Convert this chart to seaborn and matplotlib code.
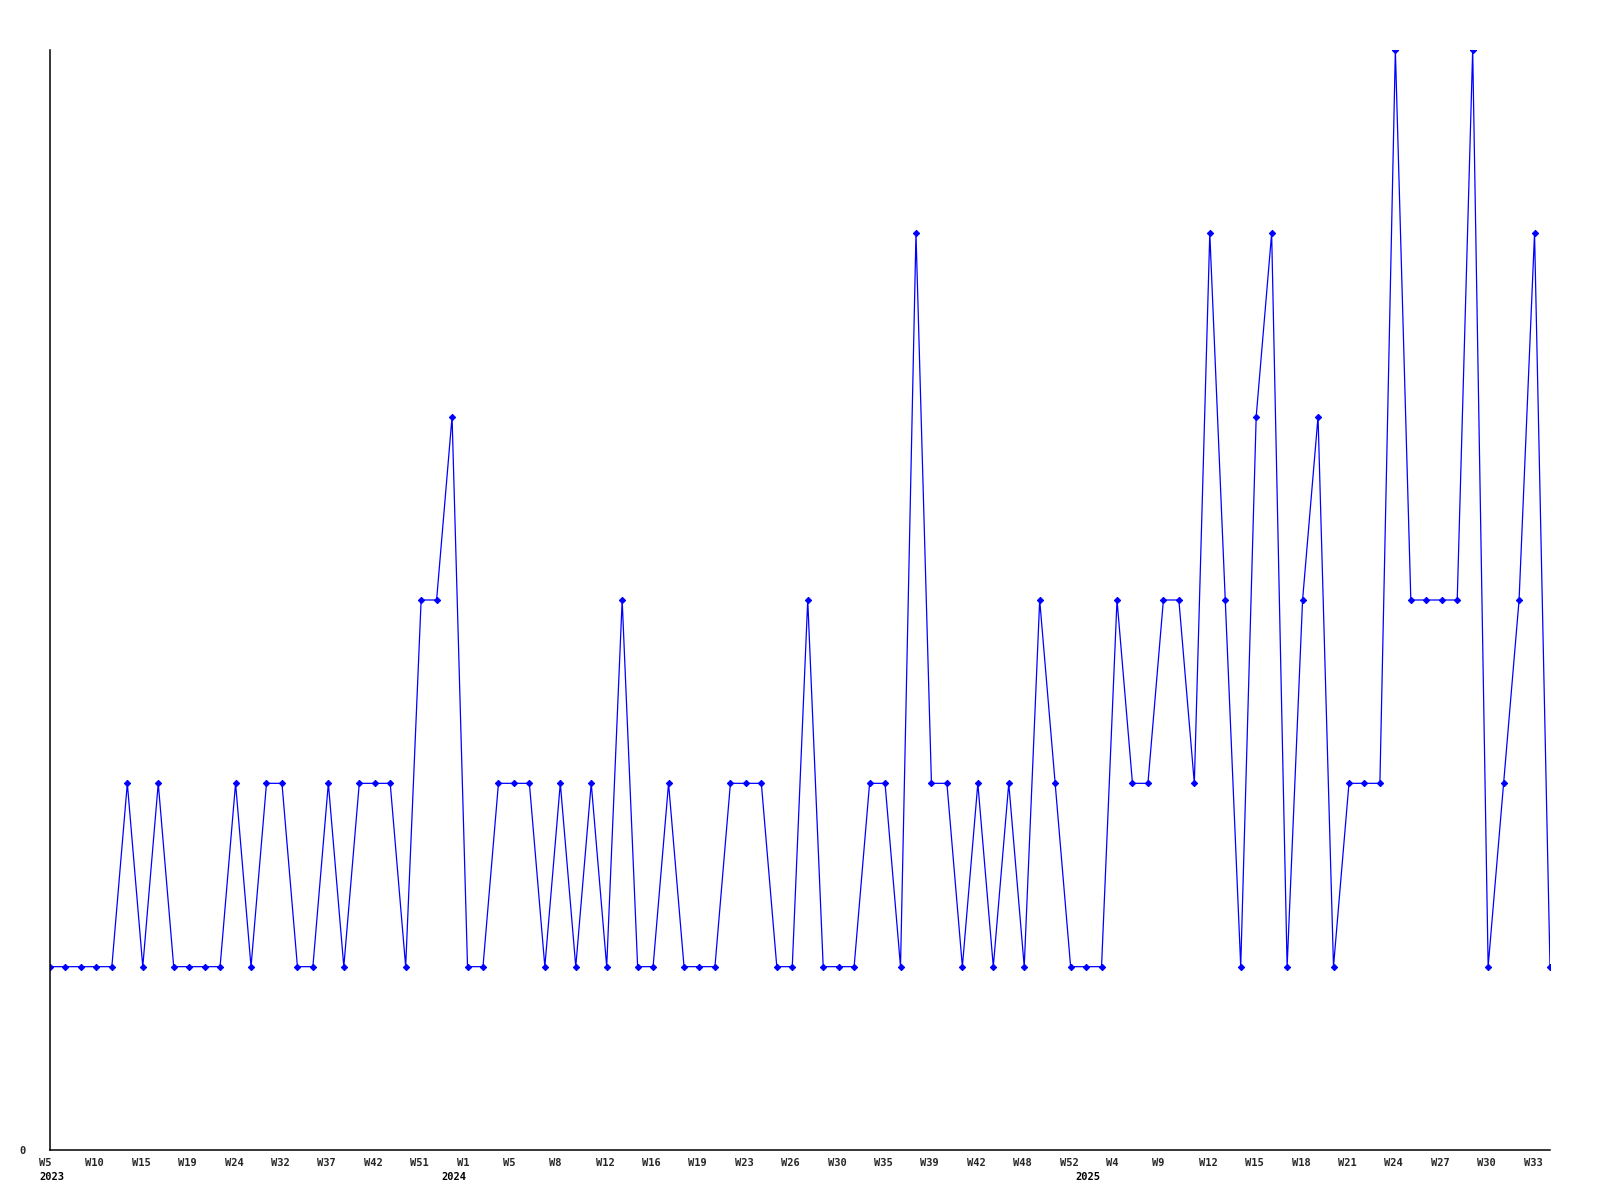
import matplotlib
matplotlib.use("Agg")
import matplotlib.pyplot as plt
import matplotlib.transforms as mtransforms
import seaborn as sns
import pandas as pd

# Weekly counts (one point per reported week)
values = [1, 1, 1, 1, 1, 2, 1, 2, 1, 1, 1, 1, 2, 1, 2, 2, 1, 1, 2, 1,
          2, 2, 2, 1, 3, 3, 4, 1, 1, 2, 2, 2, 1, 2, 1, 2, 1, 3, 1, 1,
          2, 1, 1, 1, 2, 2, 2, 1, 1, 3, 1, 1, 1, 2, 2, 1, 5, 2, 2, 1,
          2, 1, 2, 1, 3, 2, 1, 1, 1, 3, 2, 2, 3, 3, 2, 5, 3, 1, 4, 5,
          1, 3, 4, 1, 2, 2, 2, 6, 3, 3, 3, 3, 6, 1, 2, 3, 5, 1]

# Week tick labels shown every third point
tick_weeks = ["W5", "W10", "W15", "W19", "W24", "W32", "W37", "W42", "W51",
              "W1", "W5", "W8", "W12", "W16", "W19", "W23", "W26", "W30",
              "W35", "W39", "W42", "W48", "W52", "W4", "W9", "W12", "W15",
              "W18", "W21", "W24", "W27", "W30", "W33"]
# Year labels and the point index where each year starts
year_labels = ["2023", "2024", "2025"]
year_index = [0, 26, 67]

df = pd.DataFrame({"idx": range(len(values)), "count": values})

sns.set_theme(style="white")
plt.rcParams["font.family"] = ["DejaVu Sans Mono"]

fig = plt.figure(figsize=(16, 12), dpi=100)
ax = fig.add_axes([50 / 1600, 50 / 1200, 1500 / 1600, 1100 / 1200])

sns.lineplot(data=df, x="idx", y="count", ax=ax, color="#0000ff",
             linewidth=0.9, marker="D", markersize=3.2,
             markeredgecolor="#0000ff", markerfacecolor="#0000ff")

ax.set_xlim(0, len(values) - 1)
ax.set_ylim(0, 6)

for s in ["top", "right"]:
    ax.spines[s].set_visible(False)
for s in ["left", "bottom"]:
    ax.spines[s].set_color("black")
    ax.spines[s].set_linewidth(1.1)

ax.set_xticks(list(range(0, len(values), 3))[:len(tick_weeks)])
ax.set_xticklabels(tick_weeks, fontsize=7.5, fontweight="bold",
                   ha="left", va="top")
ax.set_yticks([0])
ax.set_yticklabels(["0"], fontsize=7.5, fontweight="bold")
ax.tick_params(axis="x", length=0, pad=6)
ax.tick_params(axis="y", length=0, pad=17.5)

off = mtransforms.ScaledTranslation(-11 / 100, 0, fig.dpi_scale_trans)
for t in ax.get_xticklabels():
    t.set_transform(t.get_transform() + off)

ytrans = mtransforms.blended_transform_factory(ax.transData, ax.transAxes)
yoff = mtransforms.ScaledTranslation(-11 / 100, -26.5 / 100, fig.dpi_scale_trans)
for lab, xi in zip(year_labels, year_index):
    ax.text(xi, 0, lab, transform=ytrans + yoff, ha="left", va="center",
            fontsize=7.5, fontweight="bold", color="black", clip_on=False)

ax.set_xlabel("")
ax.set_ylabel("")
ax.grid(False)

fig.savefig("out.png", dpi=100)
